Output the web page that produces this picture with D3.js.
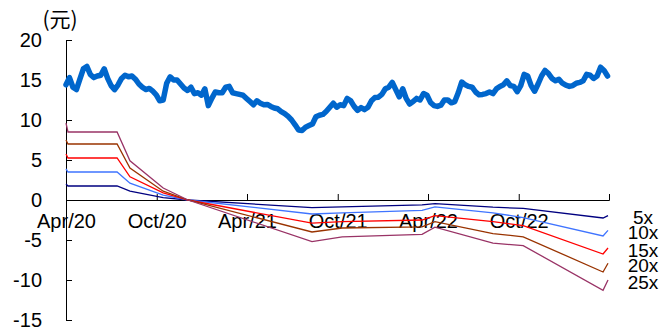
<!DOCTYPE html>
<html>
<head>
<meta charset="utf-8">
<script src="https://cdn.jsdelivr.net/npm/d3@7"></script>
<style>
  body { margin: 0; background: #fff; }
  text { font-family: "Liberation Sans", Arial, sans-serif; }
</style>
</head>
<body>
<svg></svg>
<script>
// canvas
const width = 665;
const height = 329;
const margin = { top: 40, right: 56, bottom: 9, left: 66 };

// weekly share price (元), first week starts 2020-04-01
const priceStart = "2020-04-01";
const priceValues = [
  14.4, 15.3, 14.1, 13.8, 15.1, 16.4, 16.7, 15.7, 15.3, 15.5,
  15.6, 16.4, 15.2, 14.3, 13.8, 14.4, 15.2, 15.6, 15.4, 15.5,
  15.1, 14.5, 14.1, 13.8, 13.95, 13.6, 13.15, 12.4, 12.5, 14.6,
  15.4, 15.0, 15.0, 14.5, 14.0, 13.7, 14.1, 13.3, 13.4, 13.1,
  13.9, 11.8, 12.7, 13.5, 13.4, 13.4, 14.1, 14.2, 13.4, 13.3,
  13.2, 13.1, 12.7, 12.3, 11.9, 12.4, 12.1, 11.9, 11.95, 11.7,
  11.5, 11.4, 11.05, 10.8, 10.45, 10.0, 9.4, 8.75, 8.7, 9.1,
  9.3, 9.5, 10.4, 10.6, 10.7, 11.1, 11.6, 12.1, 11.6, 11.9,
  11.8, 12.7, 12.4, 11.7, 11.2, 11.55, 11.3, 11.6, 12.4, 12.8,
  12.85, 13.2, 13.9, 14.1, 14.7, 13.8, 12.9, 13.9, 12.7, 12.0,
  12.3, 12.7, 12.5, 13.3, 13.1, 12.2, 11.8, 11.7, 11.85, 12.5,
  12.5, 12.15, 12.3, 13.4, 14.75, 14.4, 14.2, 14.1, 13.5, 13.15,
  13.2, 13.3, 13.5, 13.3, 13.9, 14.2, 14.4, 14.9, 14.3, 14.2,
  13.55, 14.3, 15.7, 15.5, 14.3, 13.6, 14.5, 15.5, 16.2, 15.8,
  15.2, 14.9, 15.1, 14.6, 14.35, 14.2, 14.3, 14.6, 14.7, 14.9,
  15.7, 15.6, 15.2, 15.5, 16.6, 16.2, 15.5
];

// multiple bands, valued at these dates
const bandDates = [
  "2020-04-01", "2020-04-05", "2020-07-13", "2020-08-08", "2020-10-14",
  "2020-12-03", "2021-08-10", "2021-10-10", "2022-03-20", "2022-04-15",
  "2022-08-10", "2022-10-10", "2023-03-20", "2023-03-30"
];
const bandNames = ["5x", "10x", "15x", "20x", "25x"];
const band5x  = [2.0, 1.75, 1.75, 1.1, 0.3, 0, -0.95, -0.85, -0.6, -0.45, -0.9, -1.05, -2.25, -1.95];
const band10x = [3.9, 3.5, 3.5, 2.1, 0.6, 0, -1.75, -1.6, -1.3, -0.85, -1.6, -2.2, -4.5, -3.8];
const band15x = [5.75, 5.25, 5.25, 2.9, 0.9, 0, -2.9, -2.7, -2.5, -1.95, -2.7, -3.2, -6.75, -6.0];
const band20x = [7.5, 7.0, 7.0, 4.0, 1.1, 0, -4.0, -3.5, -3.35, -2.7, -4.2, -4.6, -9.0, -7.9];
const band25x = [9.6, 8.5, 8.5, 4.9, 1.5, 0, -5.2, -4.6, -4.3, -3.4, -5.4, -5.7, -11.3, -10.0];
const bandColors = ["#000080", "#3f74ff", "#ff0000", "#993300", "#993366"];

// axes
const xTickDates = ["2020-04-01", "2020-10-01", "2021-04-01", "2021-10-01", "2022-04-01", "2022-10-01", "2023-04-01"];
const xTickLabels = ["Apr/20", "Oct/20", "Apr/21", "Oct/21", "Apr/22", "Oct/22", ""];
const yTicks = [-15, -10, -5, 0, 5, 10, 15, 20];
const unitLabel = "(元)";

const parse = d3.timeParse("%Y-%m-%d");

const svg = d3.select("svg")
  .attr("width", width)
  .attr("height", height);

const x = d3.scaleTime()
  .domain([parse("2020-04-01"), parse("2023-04-01")])
  .range([margin.left, width - margin.right]);

const y = d3.scaleLinear()
  .domain([-15, 20])
  .range([height - margin.bottom, margin.top]);

// y axis (ticks point into the plot), plain hyphen for negatives
const yAxis = svg.append("g")
  .attr("transform", `translate(${margin.left},0)`)
  .call(d3.axisLeft(y)
    .tickValues(yTicks)
    .tickFormat(d => String(d))
    .tickSizeInner(-6).tickSizeOuter(-6).tickPadding(24));
yAxis.select(".domain").attr("stroke", "#000");
yAxis.selectAll(".tick line").attr("stroke", "#000");
yAxis.selectAll("text").attr("font-size", 20).attr("fill", "#000");

// x axis on the zero line, ticks point up
const xAxis = svg.append("g")
  .attr("transform", `translate(0,${y(0)})`)
  .call(d3.axisBottom(x)
    .tickValues(xTickDates.map(parse))
    .tickFormat((d, i) => xTickLabels[i])
    .tickSizeInner(-6).tickSizeOuter(-6).tickPadding(14));
xAxis.select(".domain").attr("stroke", "#000");
xAxis.selectAll(".tick line").attr("stroke", "#000");
xAxis.selectAll("text").attr("font-size", 20).attr("fill", "#000");

// unit
svg.append("text")
  .attr("x", 60)
  .attr("y", 18)
  .attr("text-anchor", "middle")
  .attr("dominant-baseline", "central")
  .attr("font-size", 21)
  .style("font-family", '"Noto Sans CJK SC", sans-serif')
  .text(unitLabel);

// bands
const bands = [band5x, band10x, band15x, band20x, band25x];
const bandLine = d3.line()
  .x((d, i) => x(parse(bandDates[i])))
  .y(d => y(d));

bands.forEach((vals, k) => {
  svg.append("path")
    .datum(vals)
    .attr("fill", "none")
    .attr("stroke", bandColors[k])
    .attr("stroke-width", 1.3)
    .attr("d", bandLine);

  svg.append("text")
    .attr("x", 643)
    .attr("y", y(vals[vals.length - 1]) + 2)
    .attr("text-anchor", "middle")
    .attr("dominant-baseline", "central")
    .attr("font-size", 19)
    .text(bandNames[k]);
});

// price line
const start = parse(priceStart);
const priceLine = d3.line()
  .x((d, i) => x(d3.timeDay.offset(start, 7 * i)))
  .y(d => y(d));

svg.append("path")
  .datum(priceValues)
  .attr("fill", "none")
  .attr("stroke", "#0066cc")
  .attr("stroke-width", 5.5)
  .attr("stroke-linejoin", "round")
  .attr("stroke-linecap", "round")
  .attr("d", priceLine);
</script>
</body>
</html>
